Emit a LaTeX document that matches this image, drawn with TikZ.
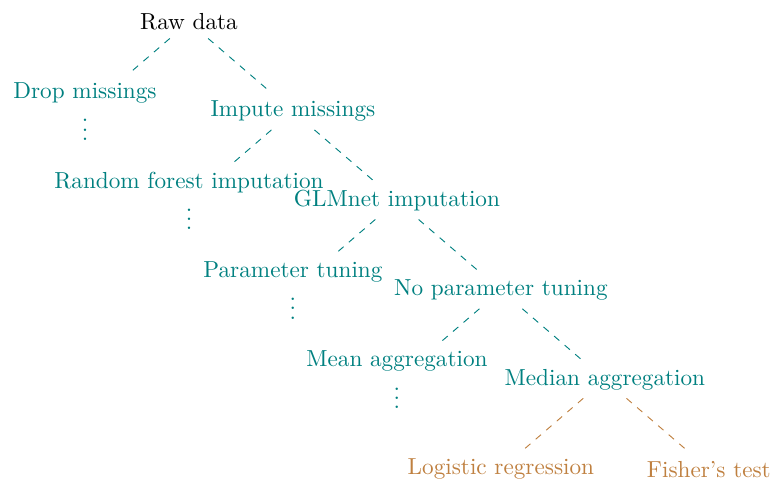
\documentclass[tikz,border=0pt]{standalone}
\usepackage{amsmath, amssymb}
\usepackage{tikz}

\begin{document}
\begin{tikzpicture}[every node/.style={align=center}, pick/.style={text=teal}, model/.style={text=brown}, branch/.style={dashed, teal}, last/.style={dashed, brown}]
  \useasboundingbox (-2.863,0.333) rectangle (8.832,-6.939);
  \node (raw) at (0,0) {Raw data};
  \node[pick] (drop) at (-1.575,-1.355) {Drop missings\\ $\vdots$};
  \node[pick] (imp) at (1.575,-1.355) {Impute missings};
  \draw[branch] (raw) -- (drop);
  \draw[branch] (raw) -- (imp);
  \node[pick] (rf) at (0,-2.71) {Random forest imputation\\ $\vdots$};
  \node[pick] (glm) at (3.15,-2.71) {GLMnet imputation};
  \draw[branch] (imp) -- (rf);
  \draw[branch] (imp) -- (glm);
  \node[pick] (tune) at (1.575,-4.065) {Parameter tuning\\ $\vdots$};
  \node[pick] (notune) at (4.725,-4.065) {No parameter tuning};
  \draw[branch] (glm) -- (tune);
  \draw[branch] (glm) -- (notune);
  \node[pick] (mean) at (3.15,-5.42) {Mean aggregation\\ $\vdots$};
  \node[pick] (median) at (6.3,-5.42) {Median aggregation};
  \draw[branch] (notune) -- (mean);
  \draw[branch] (notune) -- (median);
  \node[model] (logit) at (4.725,-6.775) {Logistic regression};
  \node[model] (fisher) at (7.875,-6.775) {Fisher's test};
  \draw[last] (median) -- (logit);
  \draw[last] (median) -- (fisher);
\end{tikzpicture}
\end{document}
